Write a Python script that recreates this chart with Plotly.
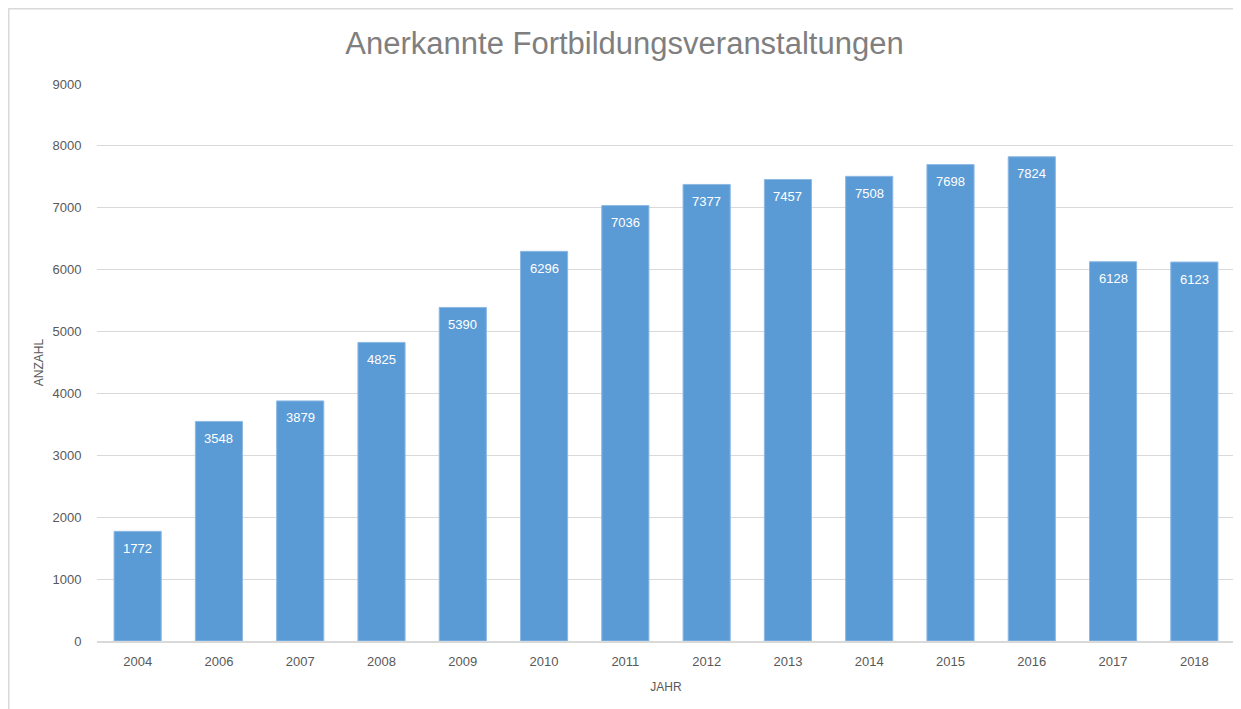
import plotly.graph_objects as go

years = ["2004", "2006", "2007", "2008", "2009", "2010", "2011", "2012",
         "2013", "2014", "2015", "2016", "2017", "2018"]
counts = [1772, 3548, 3879, 4825, 5390, 6296, 7036, 7377, 7457, 7508, 7698, 7824, 6128, 6123]
y_ticks = [0, 1000, 2000, 3000, 4000, 5000, 6000, 7000, 8000, 9000]

# page body has an 8px margin, so the figure is sized to the visible area
W, H = 1233, 701
L, R, T, B = 89, 6, 76, 68
pw, ph = W - L - R, H - T - B

fig = go.Figure(go.Bar(
    x=years, y=counts,
    marker=dict(color="#5B9BD5", line=dict(color="#8DB9E3", width=1)),
    hoverinfo="x+y",
))

# data labels: on a category axis, annotation x is the category index
annotations = [
    dict(x=i, y=v, xref="x", yref="y", text=str(v), showarrow=False,
         yshift=-17, yanchor="middle",
         font=dict(color="white", size=13, family="Liberation Sans"))
    for i, v in enumerate(counts)
]

fig.update_layout(
    width=W, height=H,
    margin=dict(l=L, r=R, t=T, b=B),
    paper_bgcolor="white", plot_bgcolor="white",
    bargap=0.42,
    showlegend=False,
    font=dict(family="Liberation Sans", color="#595959"),
    title=dict(text="Anerkannte Fortbildungsveranstaltungen",
               x=0.5, xref="container", xanchor="center",
               y=1 - 35 / H, yref="container", yanchor="middle",
               font=dict(size=31, color="#7F7F7F", family="Liberation Sans")),
    xaxis=dict(
        type="category",
        range=[-0.5, len(years) - 0.5],
        showgrid=False,
        showline=True, linecolor="#D9D9D9", linewidth=1.5,
        ticks="outside", tickcolor="rgba(0,0,0,0)", ticklen=8,
        tickfont=dict(size=13, color="#595959"),
        title=dict(text="JAHR", font=dict(size=12, color="#595959"), standoff=14),
    ),
    yaxis=dict(
        range=[0, 9000],
        tickvals=y_ticks,
        showgrid=True, gridcolor="#D9D9D9", gridwidth=1,
        zeroline=False,
        showline=False,
        ticks="outside", tickcolor="rgba(0,0,0,0)", ticklen=12,
        tickfont=dict(size=13, color="#595959"),
        title=dict(text="ANZAHL", font=dict(size=12, color="#595959"), standoff=6),
    ),
    annotations=annotations,
    shapes=[dict(
        type="rect", xref="paper", yref="paper",
        x0=(0.75 - L) / pw, x1=(W + 10 - L) / pw,
        y0=-(H + 10 - T - ph) / ph, y1=(T + ph - 0.75) / ph,
        line=dict(color="#D9D9D9", width=1.5), fillcolor="rgba(0,0,0,0)",
        layer="below",
    )],
)

fig.write_html("out.html")
